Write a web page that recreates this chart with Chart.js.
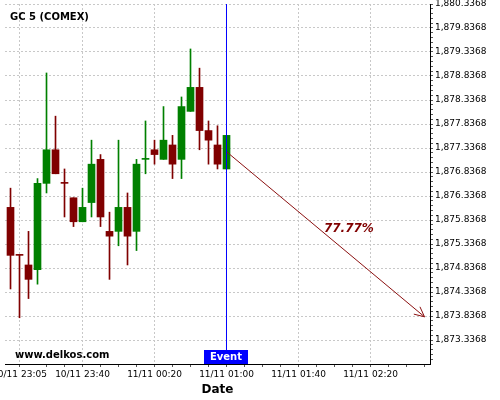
<!DOCTYPE html>
<html>
<head>
<meta charset="utf-8">
<script src="https://cdn.jsdelivr.net/npm/chart.js@4.4.0/dist/chart.umd.min.js"></script>
<style>
html,body{margin:0;padding:0;background:#fff;}
#wrap{width:500px;height:400px;position:relative;}
canvas{display:block;}
</style>
</head>
<body>
<div id="wrap"><canvas id="c" width="500" height="400" style="width:500px;height:400px"></canvas></div>
<script>
// ---- data (5-minute candles) ----
const times = ['10/11 23:00','10/11 23:05','10/11 23:10','10/11 23:15','10/11 23:20','10/11 23:25','10/11 23:30','10/11 23:35','10/11 23:40','10/11 23:45','10/11 23:50','10/11 23:55','11/11 00:00','11/11 00:05','11/11 00:10','11/11 00:15','11/11 00:20','11/11 00:25','11/11 00:30','11/11 00:35','11/11 00:40','11/11 00:45','11/11 00:50','11/11 00:55','11/11 01:00'];
const opens  = [1876.1,1875.1,1874.9,1874.8,1876.6,1877.3,1876.6,1876.3,1875.8,1876.2,1877.1,1875.6,1875.6,1876.1,1875.6,1877.1,1877.3,1877.1,1877.4,1877.1,1878.1,1878.6,1877.7,1877.4,1876.9];
const highs  = [1876.5,1875.1,1875.6,1876.7,1878.9,1878.0,1876.9,1876.3,1876.5,1877.5,1877.2,1876.0,1877.5,1876.4,1877.1,1877.9,1877.5,1878.2,1877.6,1878.4,1879.4,1879.0,1877.9,1877.8,1877.6];
const lows   = [1874.4,1873.8,1874.2,1874.5,1876.4,1876.8,1875.9,1875.7,1875.8,1875.9,1875.7,1874.6,1875.3,1874.9,1875.2,1876.8,1877.0,1877.1,1876.7,1876.7,1878.1,1877.3,1877.0,1876.9,1876.9];
const closes = [1875.1,1875.1,1874.6,1876.6,1877.3,1876.8,1876.6,1875.8,1876.1,1877.0,1875.9,1875.5,1876.1,1875.5,1877.0,1877.1,1877.2,1877.5,1877.0,1878.2,1878.6,1877.7,1877.5,1877.0,1877.6];

const xTickLabels = ['10/11 23:05','10/11 23:40','11/11 00:20','11/11 01:00','11/11 01:40','11/11 02:20'];
const yTickValues = [1873.3368,1873.8368,1874.3368,1874.8368,1875.3368,1875.8368,1876.3368,1876.8368,1877.3368,1877.8368,1878.3368,1878.8368,1879.3368,1879.8368,1880.3368];

const eventTime = '11/11 01:00';
const eventLabel = 'Event';
const arrowTimes = ['11/11 01:00','11/11 02:50'];
const arrowValues = [1877.26, 1873.82];
const pctText = '77.77%';
const pctTime = '11/11 02:08';
const pctValue = 1875.66;
const titleText = 'GC 5 (COMEX)';
const siteText = 'www.delkos.com';
const xAxisTitle = 'Date';

// ---- helpers ----
const toMin = s => { const [d, hm] = s.split(' '); const [h, m] = hm.split(':').map(Number); return (d === '11/11' ? 0 : -1440) + h * 60 + m; };
const fromMin = t => { const day = t < 0 ? '10/11' : '11/11'; let mm = t < 0 ? t + 1440 : t; const h = Math.floor(mm / 60), m = Math.round(mm % 60); return day + ' ' + String(h).padStart(2,'0') + ':' + String(m).padStart(2,'0'); };

const UP = '#008000', DOWN = '#800000';
const tx = times.map(toMin);
const colors = [];
closes.forEach((c, i) => { const o = opens[i]; colors.push(c > o ? UP : c < o ? DOWN : (colors[i-1] || DOWN)); });

const xMajor = xTickLabels.map(toMin);
const X_MIN = -63.06, X_MAX = 173.06;
const Y_MIN = 1872.8368, Y_MAX = 1880.3368;

const isMajorX = v => xMajor.some(m => Math.abs(m - v) < 1e-6);
const isMajorY = v => yTickValues.some(m => Math.abs(m - v) < 1e-6);

const annot = {
  id: 'annot',
  afterDatasetsDraw(chart) {
    const ctx = chart.ctx, xs = chart.scales.x, ys = chart.scales.y, ca = chart.chartArea;
    // arrow head
    const meta = chart.getDatasetMeta(3);
    const p0 = meta.data[0], p1 = meta.data[1];
    const ang = Math.atan2(p1.y - p0.y, p1.x - p0.x);
    const L = 11, a = 0.45;
    ctx.save();
    ctx.strokeStyle = '#8b1010'; ctx.lineWidth = 1;
    ctx.beginPath();
    ctx.moveTo(p1.x - L * Math.cos(ang - a), p1.y - L * Math.sin(ang - a));
    ctx.lineTo(p1.x, p1.y);
    ctx.lineTo(p1.x - L * Math.cos(ang + a), p1.y - L * Math.sin(ang + a));
    ctx.stroke();
    // percent
    ctx.fillStyle = '#800000';
    ctx.font = 'italic bold 12px "DejaVu Sans"';
    ctx.textAlign = 'center'; ctx.textBaseline = 'alphabetic';
    ctx.fillText(pctText, xs.getPixelForValue(toMin(pctTime)), ys.getPixelForValue(pctValue) + 4);
    // event label
    const ex = xs.getPixelForValue(toMin(eventTime));
    ctx.fillStyle = '#0000ff';
    ctx.fillRect(Math.round(ex) - 22, ca.bottom - 14, 44, 14);
    ctx.fillStyle = '#ffffff';
    ctx.font = 'bold 10px "DejaVu Sans"';
    ctx.textAlign = 'center'; ctx.textBaseline = 'middle';
    ctx.fillText(eventLabel, Math.round(ex), ca.bottom - 7);
    // title & site
    ctx.fillStyle = '#000';
    ctx.textAlign = 'left'; ctx.textBaseline = 'alphabetic';
    ctx.font = 'bold 10px "DejaVu Sans"';
    ctx.fillText(titleText, 10, 19.5);
    ctx.fillText(siteText, 15, 358);
    ctx.restore();
  }
};

new Chart(document.getElementById('c'), {
  type: 'bar',
  data: {
    datasets: [
      { type: 'bar', label: 'wick', data: tx.map((t, i) => ({ x: t, y: [lows[i], highs[i]] })), backgroundColor: colors, barThickness: 1, grouped: false, order: 2, borderWidth: 0 },
      { type: 'bar', label: 'body', data: tx.map((t, i) => ({ x: t, y: [opens[i], closes[i]] })), backgroundColor: colors, barThickness: 7, minBarLength: 1, grouped: false, order: 1, borderWidth: 0 },
      { type: 'line', label: 'event', data: [{ x: toMin(eventTime), y: Y_MIN }, { x: toMin(eventTime), y: Y_MAX }], borderColor: '#0000ff', borderWidth: 1, pointRadius: 0, order: 0 },
      { type: 'line', label: 'arrow', data: arrowTimes.map((t, i) => ({ x: toMin(t), y: arrowValues[i] })), borderColor: '#8b1010', borderWidth: 1, pointRadius: 0, order: 0 }
    ]
  },
  options: {
    responsive: false,
    maintainAspectRatio: false,
    devicePixelRatio: 1,
    animation: false,
    layout: { padding: { top: 4, left: 5, right: 0, bottom: 0 } },
    plugins: { legend: { display: false }, tooltip: { enabled: false }, title: { display: false } },
    scales: {
      x: {
        type: 'linear', min: X_MIN, max: X_MAX, offset: false,
        afterBuildTicks: s => {
          const arr = [];
          for (let v = -60; v <= 170; v += 10) arr.push(v);
          xMajor.forEach(v => { if (!arr.includes(v)) arr.push(v); });
          arr.sort((a, b) => a - b);
          s.ticks = arr.filter(v => isMajorX(v) || !xMajor.some(m => Math.abs(m - v) < 6)).map(v => ({ value: v }));
        },
        afterFit: s => { s.height = 36; s.paddingLeft = 0; s.paddingRight = 0; },
        ticks: { autoSkip: false, maxRotation: 0, padding: 2, color: '#000', font: { family: 'DejaVu Sans', size: 9 },
          callback: v => isMajorX(v) ? fromMin(v) : '' },
        grid: { offset: false, color: c => (c.tick && isMajorX(c.tick.value)) ? '#c8c8c8' : 'rgba(0,0,0,0)', tickColor: '#555', tickLength: 3, lineWidth: 1 },
        border: { display: true, color: '#000', width: 1, dash: [2, 2] },
        title: { display: true, text: xAxisTitle, color: '#000', font: { family: 'DejaVu Sans', size: 12, weight: 'bold' }, padding: { top: 0, bottom: 3 } }
      },
      y: {
        type: 'linear', position: 'right', min: Y_MIN, max: Y_MAX, beginAtZero: false,
        afterBuildTicks: s => {
          const arr = [];
          yTickValues.forEach((v, i) => {
            arr.push(v);
            for (let k = 1; k < 5; k++) { const w = v - k * 0.1; if (w > Y_MIN + 1e-6) arr.push(w); }
          });
          arr.sort((a, b) => a - b);
          s.ticks = arr.map(v => ({ value: v }));
        },
        afterFit: s => { s.width = 70; s.paddingTop = 0; s.paddingBottom = 0; },
        ticks: { autoSkip: false, padding: 2, color: '#000', font: { family: 'DejaVu Sans', size: 9 },
          callback: v => isMajorY(v) ? v.toLocaleString('en-US', { minimumFractionDigits: 4, maximumFractionDigits: 4 }) : '' },
        grid: { color: c => (c.tick && isMajorY(c.tick.value)) ? '#c8c8c8' : 'rgba(0,0,0,0)', tickColor: '#555', tickLength: 3, lineWidth: 1 },
        border: { display: true, color: '#000', width: 1, dash: [2, 2] }
      }
    }
  },
  plugins: [annot]
});
</script>
</body>
</html>
